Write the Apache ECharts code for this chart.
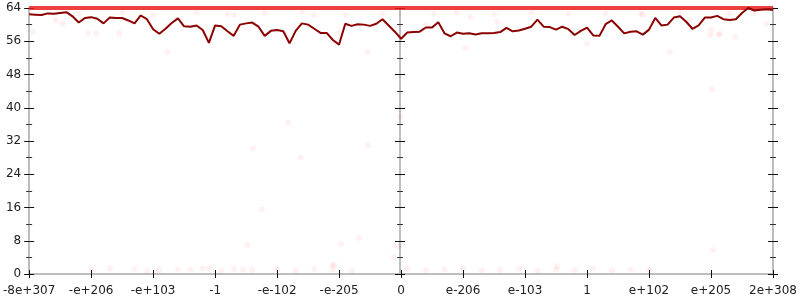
<!DOCTYPE html>
<html>
<head>
<meta charset="utf-8">
<script src="https://cdn.jsdelivr.net/npm/echarts@6/dist/echarts.min.js"></script>
<style>
html,body{margin:0;padding:0;background:#fff;}
#c{width:800px;height:300px;}
</style>
</head>
<body>
<div id="c"></div>
<script>
// tick labels for the symmetric-log x axis (one per unit step)
const xTickLabels = ['-8e+307','-e+206','-e+103','-1','-e-102','-e-205','0','e-206','e-103','1','e+102','e+205','2e+308'];
const yTicks = [0, 8, 16, 24, 32, 40, 48, 56, 64];

// dark red running line, sampled every 0.1 axis unit from 0 to 12
const lineValues = [
 62.5,62.4,62.3,62.7,62.6,62.8,63.0,62.0,60.5,61.6,
 61.8,61.4,60.3,61.7,61.6,61.6,61.0,60.3,62.2,61.3,
 58.9,57.8,59.0,60.4,61.5,59.6,59.5,59.8,58.7,55.6,
 59.8,59.6,58.4,57.3,60.0,60.3,60.5,59.5,57.3,58.5,
 58.7,58.4,55.5,58.5,60.3,60.0,59.0,58.0,58.0,56.3,
 55.2,60.2,59.7,60.1,60.0,59.7,60.2,61.3,59.8,58.3,
 56.6,58.1,58.2,58.3,59.3,59.3,60.6,57.9,57.2,58.1,
 57.8,57.9,57.6,57.9,57.9,58.0,58.2,59.2,58.4,58.6,
 59.0,59.5,61.2,59.5,59.4,58.8,59.5,58.9,57.5,58.5,
 59.3,57.4,57.3,60.1,61.0,59.5,57.9,58.3,58.4,57.6,
 58.8,61.6,59.8,60.0,61.7,62.0,60.7,59.0,59.8,61.7,
 61.7,62.1,61.3,61.1,61.3,62.8,64.0,63.4,63.6,63.7,
 63.5
];
const lineStep = 0.1;

// bright red band at the top (max value)
const bandX = [0, 12];
const bandValue = 64;

// faint scattered points
const dotX = [0.06,0.43,0.54,0.95,1.08,1.45,2.23,3.3,4.6,5.46,5.0,7.12,7.04,7.55,9.0,9.86,10.34,10.99,11.15,11.9,10.66,11.68,6.4,6.53,11.0,11.12,11.39,11.01,
  3.52,5.03,4.92,11.03,8.52,4.18,3.61,4.38,5.46,3.75,5.32,5.96,5.88,4.89,5.99,
  1.0,1.7,2.1,2.4,2.8,3.1,3.3,3.6,4.0,4.3,4.6,4.9,5.2,
  1.3,1.9,2.6,2.9,3.45,6.1,6.4,6.7,7.0,7.3,7.6,7.9,8.2,8.5,8.8,9.1,9.4,9.7,10.0,
  0.8,1.5,2.0,2.7,3.2,3.8,4.4,5.1,5.7,6.9,7.5,8.1,8.7,9.3,9.9,10.5,11.3];
const dotY = [58.3,61.1,60.3,57.9,57.9,57.9,53.5,62.3,62.3,53.5,58.0,61.9,54.4,60.7,55.5,62.7,53.5,57.5,57.9,60.3,61.1,62.7,59.9,62.7,58.7,57.5,57.0,44.4,
  7.0,7.2,2.2,5.8,1.9,36.4,30.2,28.1,30.9,15.6,8.7,6.6,4.1,2.0,37.8,
  1.0,1.2,0.9,1.1,1.3,0.8,1.2,1.0,1.1,0.9,1.2,1.0,0.8,
  1.3,0.8,1.1,1.4,1.0,1.2,0.9,1.1,1.3,0.9,1.0,1.2,0.8,1.1,1.0,1.3,0.9,1.1,1.0,
  62.6,62.9,62.4,63.0,62.5,62.8,63.1,62.4,62.7,62.9,62.5,63.0,62.6,62.8,62.4,62.9,62.7];

const lineData = lineValues.map((v, i) => [i * lineStep, v]);
const dotData = dotX.map((x, i) => [x, dotY[i]]);
const bandData = bandX.map(x => [x, bandValue]);

const chart = echarts.init(document.getElementById('c'));
const labelFont = {fontFamily: 'DejaVu Sans', fontSize: 12, color: '#222'};
const gray = '#bdbdbd';
const tickStyle = {color: '#111', width: 1};

function yAx(opts) {
  return Object.assign({
    type: 'value', min: 0, max: 64, interval: 8,
    splitLine: {show: false},
    axisLine: {show: true, lineStyle: {color: gray, width: 2}},
    axisTick: {show: true, inside: true, length: 5, lineStyle: tickStyle},
    minorTick: {show: true, splitNumber: 2, length: 3, lineStyle: {color: '#333'}},
    axisLabel: {show: false}
  }, opts);
}
function xAx(opts) {
  return Object.assign({
    type: 'value', min: 0, max: 12, interval: 1,
    splitLine: {show: false},
    axisLine: {show: true, lineStyle: {color: gray, width: 2}},
    axisTick: {show: true, inside: true, length: 4, lineStyle: tickStyle},
    axisLabel: {show: false},
    position: 'bottom'
  }, opts);
}
const outTickY = {show: true, inside: false, length: 5, lineStyle: tickStyle};
const outTickX = {show: true, inside: false, length: 4, lineStyle: tickStyle};

chart.setOption({
  animation: false,
  backgroundColor: '#fff',
  grid: {left: 28, right: 27, top: 8, bottom: 26},
  xAxis: [
    xAx({axisLabel: Object.assign({show: true, margin: 11,
      formatter: v => xTickLabels[Math.round(v)]}, labelFont)}),
    xAx({axisLine: {show: false}, axisTick: outTickX})
  ],
  yAxis: [
    yAx({position: 'left', axisLabel: Object.assign({show: true, margin: 8,
      formatter: v => (yTicks.indexOf(v) >= 0 ? String(v) : '')}, labelFont)}),
    yAx({position: 'left', axisLine: {show: false}, axisTick: outTickY}),
    yAx({position: 'right'}),
    yAx({position: 'right', axisLine: {show: false}, axisTick: outTickY}),
    yAx({position: 'right', offset: -373}),
    yAx({position: 'right', offset: -373, axisLine: {show: false}, axisTick: outTickY})
  ],
  series: [
    {
      type: 'scatter', data: dotData, xAxisIndex: 0, yAxisIndex: 0,
      symbolSize: 6, itemStyle: {color: 'rgba(255,0,0,0.07)'}, silent: true, z: 1
    },
    {
      type: 'line', data: bandData, xAxisIndex: 0, yAxisIndex: 0,
      showSymbol: false, lineStyle: {color: 'rgba(236,30,30,0.85)', width: 4}, silent: true, z: 2
    },
    {
      type: 'line', data: lineData, xAxisIndex: 0, yAxisIndex: 0,
      showSymbol: false, lineStyle: {color: '#8b0000', width: 2}, silent: true, z: 3
    }
  ]
});
</script>
</body>
</html>
